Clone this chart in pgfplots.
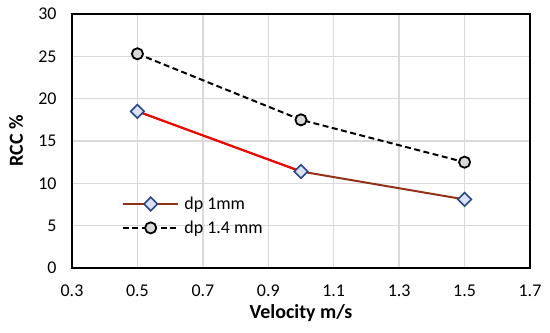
\documentclass[border=0pt]{standalone}
\usepackage{pgfplots}
\pgfplotsset{compat=1.18}
\usepackage{fontspec}
\setmainfont{Carlito}
\definecolor{gridc}{RGB}{217,217,217}
\definecolor{redbrown}{RGB}{145,50,20}
\definecolor{mblue}{RGB}{40,70,140}
\definecolor{mfill}{RGB}{218,225,243}
\definecolor{cfill}{RGB}{217,217,217}
\begin{document}
\begin{tikzpicture}
\begin{axis}[
  scale only axis, width=458bp, height=254bp,
  xmin=0.3, xmax=1.7, ymin=0, ymax=30,
  xtick={0.3,0.5,...,1.7}, ytick={0,5,...,30},
  xticklabels={0.3,0.5,0.7,0.9,1.1,1.3,1.5,1.7},
  grid=major, major grid style={gridc, line width=1.3pt},
  axis line style={black, line width=1.8pt},
  tick style={draw=none},
  /pgf/number format/assume math mode=true,
  ticklabel style={font=\fontsize{18}{20}\selectfont},
  xticklabel style={yshift=-13pt},
  yticklabel style={xshift=-12pt},
  xlabel={\textbf{Velocity m/s}}, ylabel={\textbf{RCC \%}},
  label style={font=\fontsize{20}{22}\selectfont},
  xlabel style={at={([yshift=-50bp]rel axis cs:0.5,0)}, anchor=base},
  ylabel style={at={([xshift=-49bp]rel axis cs:0,0.5)}, anchor=base},
  legend style={draw=none, fill=none, at={(0.102,0.205)}, anchor=west, font=\fontsize{18}{20}\selectfont, row sep=6pt, column sep=3pt},
  legend cell align=left,
  legend image code/.code={\draw[mark repeat=2,mark phase=2] plot coordinates {(0cm,0cm) (0.98cm,0cm) (1.96cm,0cm)};},
]
\addplot[redbrown, line width=2pt, mark=square*, mark size=4.8pt, mark options={draw=mblue, fill=mfill, line width=1.6pt, solid, rotate=45}] coordinates {(0.5,18.5) (1.0,11.4) (1.5,8.1)};
\addlegendentry{dp 1mm}
\addplot[black, dash pattern=on 6pt off 3.5pt, line width=2pt, mark=*, mark size=5.6pt, mark options={draw=black, fill=cfill, line width=1.8pt, solid}] coordinates {(0.5,25.3) (1.0,17.5) (1.5,12.5)};
\addlegendentry{dp 1.4 mm}
\addplot[red, line width=2pt, forget plot, shorten <=6pt, shorten >=6pt] coordinates {(0.5,18.5) (1.0,11.4)};
\end{axis}
\pgfresetboundingbox
\useasboundingbox (-72bp,-65bp) rectangle (478bp,268bp);
\end{tikzpicture}
\end{document}
